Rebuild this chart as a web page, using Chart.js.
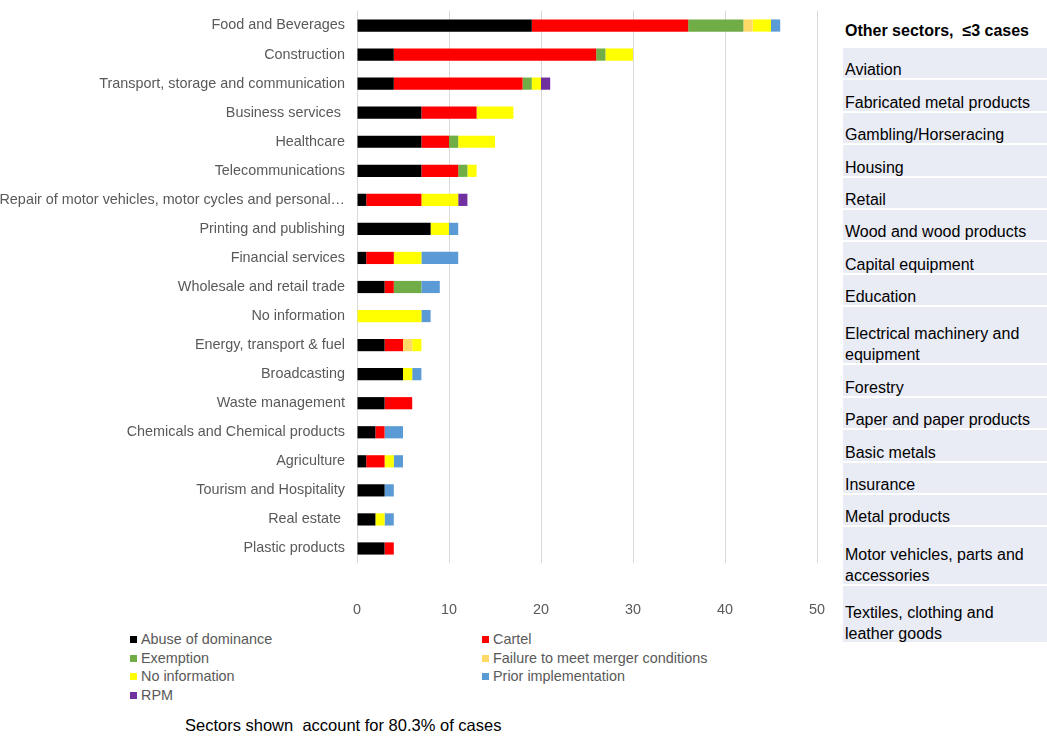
<!DOCTYPE html>
<html>
<head>
<meta charset="utf-8">
<title>Cases by sector</title>
<script src="https://cdn.jsdelivr.net/npm/chart.js@4/dist/chart.umd.min.js"></script>
<style>
body{margin:0;width:1047px;height:736px;overflow:hidden;background:#fff;position:relative;
  font-family:"Liberation Sans",Arial,sans-serif}
#chartBox{position:absolute;left:0;top:0;width:830px;height:615px}
#legend{position:absolute;left:130px;top:630px;display:grid;grid-template-columns:352px 352px;
  font-size:14.4px;color:#595959;line-height:18.7px}
#legend .item{display:flex;align-items:center;white-space:nowrap}
#legend .sw{width:7px;height:7px;margin-right:4px;flex:none}
#note{position:absolute;left:185px;top:716px;font-size:16.5px;color:#000;white-space:pre}
#others{position:absolute;left:843px;top:15px;width:230px;color:#000;font-size:16px}
#others .head{height:31px;line-height:31px;font-weight:bold;padding-left:2px;white-space:pre}
#others .row{background:#e9ebf5;margin-top:2px;display:flex;align-items:flex-end;
  line-height:21px;padding-left:2px;white-space:pre-line;box-sizing:border-box}
#others .row span{position:relative;top:2px}
</style>
</head>
<body>
<div id="chartBox"><canvas id="sectorChart"></canvas></div>
<div id="legend"></div>
<div id="note">Sectors shown  account for 80.3% of cases</div>
<div id="others"></div>
<script>
// sectors with more than 3 cases, biggest first
const sectors=["Food and Beverages","Construction","Transport, storage and communication",
  "Business services ","Healthcare","Telecommunications",
  "Repair of motor vehicles, motor cycles and personal\u2026","Printing and publishing",
  "Financial services","Wholesale and retail trade","No information","Energy, transport & fuel",
  "Broadcasting","Waste management","Chemicals and Chemical products","Agriculture",
  "Tourism and Hospitality","Real estate ","Plastic products"]

// number of cases per case type
const abuse=[19,4,4,7,7,7,1,8,1,3,0,3,5,3,2,1,3,2,3]
const cartel=[17,22,14,6,3,4,6,0,3,1,0,2,0,3,1,2,0,0,1]
const exemption=[6,1,1,0,1,1,0,0,0,3,0,0,0,0,0,0,0,0,0]
const mergerFail=[1,0,0,0,0,0,0,0,0,0,0,1,0,0,0,0,0,0,0]
const noInfo=[2,3,1,4,4,1,4,2,3,0,7,1,1,0,0,1,0,1,0]
const priorImpl=[1,0,0,0,0,0,0,1,4,2,1,0,1,0,2,1,1,1,0]
const rpm=[0,0,1,0,0,0,1,0,0,0,0,0,0,0,0,0,0,0,0]

const caseTypes=["Abuse of dominance","Cartel","Exemption","Failure to meet merger conditions",
  "No information","Prior implementation","RPM"]
const xTicks=[0,10,20,30,40,50]

// sectors with 3 cases or fewer ("\n" = line break in the box)
const otherSectors=["Aviation","Fabricated metal products","Gambling/Horseracing","Housing","Retail",
  "Wood and wood products","Capital equipment","Education","Electrical machinery and\nequipment",
  "Forestry","Paper and paper products","Basic metals","Insurance","Metal products",
  "Motor vehicles, parts and\naccessories","Textiles, clothing and\nleather goods"]

const typeColors=["#000000","#ff0000","#70ad47","#ffd966","#ffff00","#5b9bd5","#7030a0"]
const seriesValues=[abuse,cartel,exemption,mergerFail,noInfo,priorImpl,rpm]

Chart.defaults.font.family='"Liberation Sans", Arial, sans-serif'
Chart.defaults.color="#595959"

new Chart(document.getElementById("sectorChart"),{
  type:"bar",
  data:{
    labels:sectors,
    datasets:caseTypes.map((name,i)=>({
      label:name,
      data:seriesValues[i],
      backgroundColor:typeColors[i],
      borderWidth:0,
      categoryPercentage:1,
      barPercentage:0.42
    }))
  },
  options:{
    indexAxis:"y",
    responsive:true,
    maintainAspectRatio:false,
    animation:false,
    layout:{padding:{top:11,right:13,left:0,bottom:0}},
    plugins:{legend:{display:false},tooltip:{enabled:false}},
    scales:{
      x:{
        stacked:true,
        min:0,max:50,
        afterBuildTicks:s=>{s.ticks=xTicks.map(v=>({value:v}))},
        afterFit:s=>{s.height=52},
        // invisible tick marks push the numbers well below the plot
        grid:{color:"#d9d9d9",lineWidth:1,drawTicks:true,tickLength:36,tickColor:"rgba(0,0,0,0)"},
        border:{display:false},
        ticks:{padding:2,font:{size:14.4}}
      },
      y:{
        stacked:true,
        afterFit:s=>{s.width=357},
        grid:{display:false,drawTicks:true,tickLength:10},
        border:{display:false},
        ticks:{padding:2,font:{size:14.4},autoSkip:false}
      }
    }
  }
})

// legend in two columns
const legend=document.getElementById("legend")
caseTypes.forEach((name,i)=>{
  const item=document.createElement("div")
  item.className="item"
  item.innerHTML=`<span class="sw" style="background:${typeColors[i]}"></span>${name}`
  legend.appendChild(item)
})

// side box listing the small sectors
const others=document.getElementById("others")
const head=document.createElement("div")
head.className="head"
head.textContent="Other sectors,  \u22643 cases"
others.appendChild(head)
otherSectors.forEach(name=>{
  const row=document.createElement("div")
  row.className="row"
  row.style.height=(name.includes("\n")?56.3:30.4)+"px"
  const txt=document.createElement("span")
  txt.textContent=name
  row.appendChild(txt)
  others.appendChild(row)
})
</script>
</body>
</html>
